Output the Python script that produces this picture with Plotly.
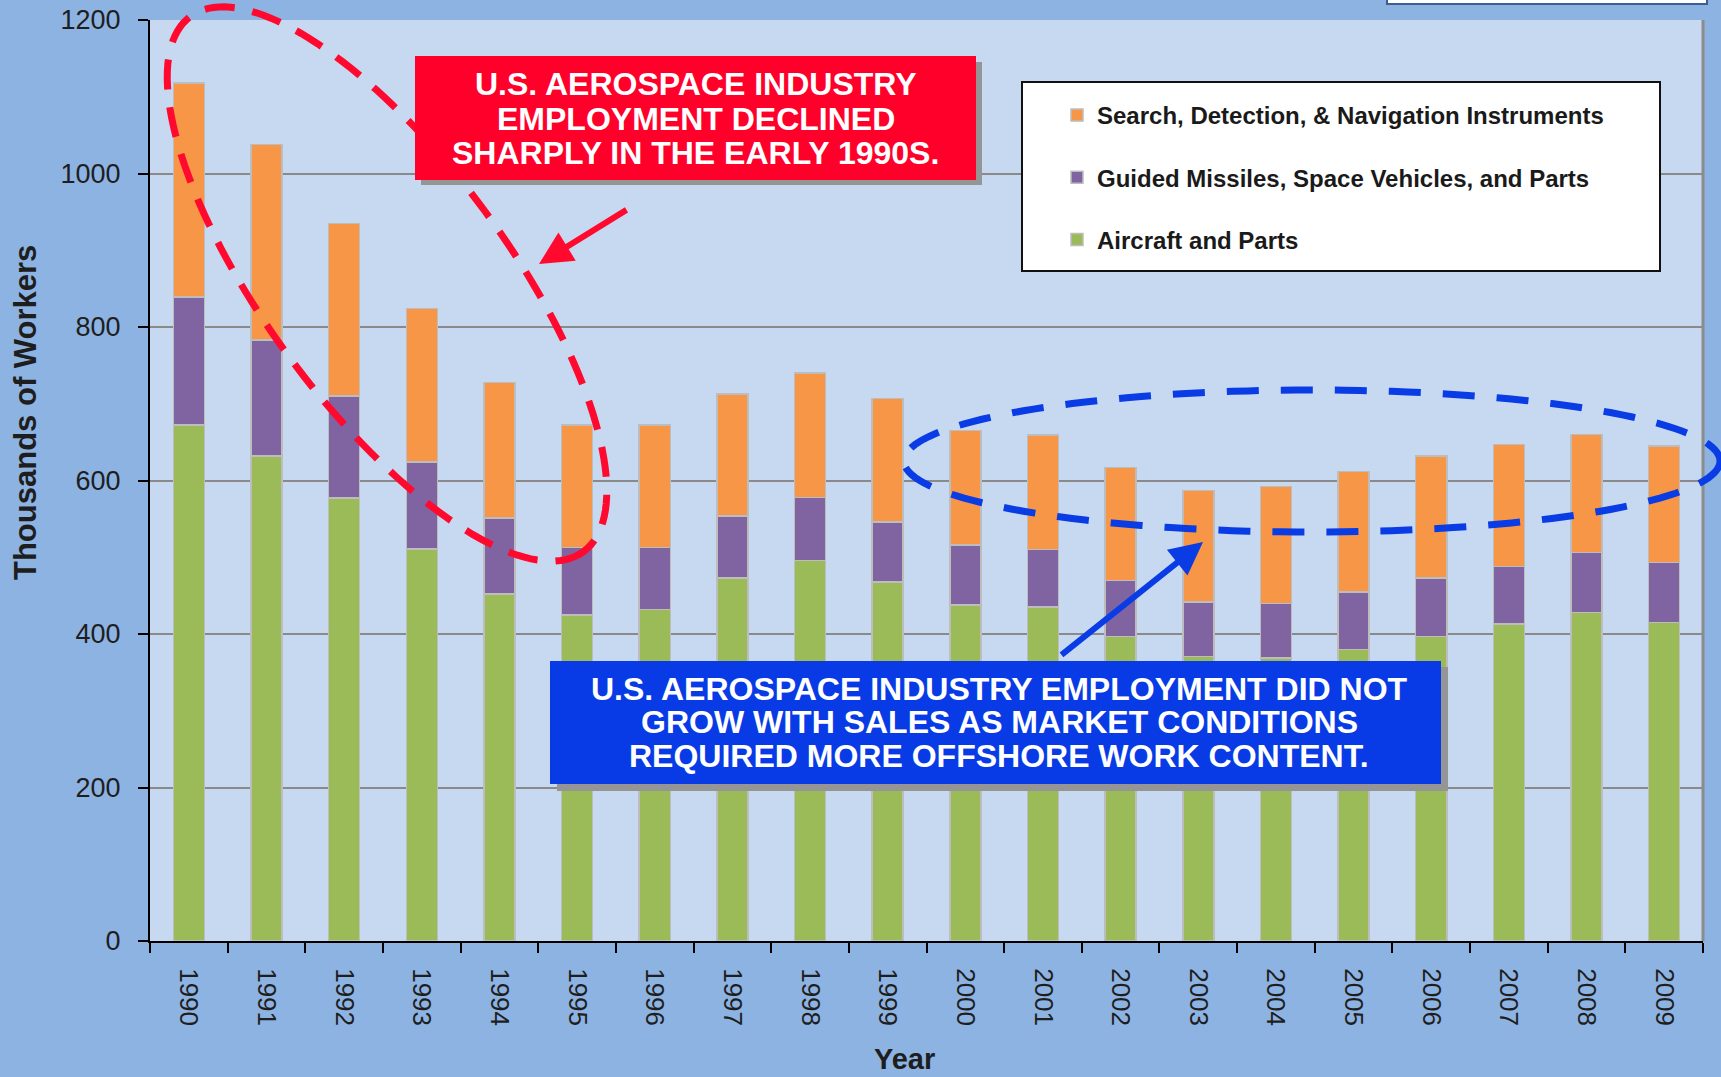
import numpy as np
import plotly.graph_objects as go

# Employment in thousands, by segment
years = [str(y) for y in range(1990, 2010)]
aircraft = [672, 632, 577, 511, 452, 425, 432, 473, 496, 468,
            438, 435, 397, 371, 369, 380, 397, 413, 428, 415]
missiles = [167, 151, 133, 113, 99, 88, 81, 81, 82, 78,
            78, 75, 73, 71, 71, 75, 76, 75, 78, 78]
search = [279, 255, 225, 200, 177, 159, 159, 159, 162, 161,
          149, 149, 147, 145, 152, 157, 159, 159, 154, 152]

series_names = ["Aircraft and Parts",
                "Guided Missiles, Space Vehicles, and Parts",
                "Search, Detection, & Navigation Instruments"]
series_colors = ["#9BBB59", "#8064A2", "#F79646"]
legend_ranks = [3, 2, 1]

W, H = 1721, 1077
PL, PR, PT, PB = 150, 1703, 20, 941
FONT = "Liberation Sans, Arial, sans-serif"


def to_paper(x, y):
    return (x - PL) / (PR - PL), (PB - y) / (PB - PT)


def ellipse_path(cx, cy, a, b, angle_deg, n=160):
    th = np.radians(angle_deg)
    t = np.linspace(0, 2 * np.pi, n, endpoint=False)
    xs = cx + a * np.cos(t) * np.cos(th) - b * np.sin(t) * np.sin(th)
    ys = cy + a * np.cos(t) * np.sin(th) + b * np.sin(t) * np.cos(th)
    pts = [to_paper(x, y) for x, y in zip(xs, ys)]
    return "M" + " L".join(f"{px:.5f},{py:.5f}" for px, py in pts) + " Z"


def rect(x0, y0, x1, y1, fill, line_color=None, line_width=0):
    p0 = to_paper(x0, y1)
    p1 = to_paper(x1, y0)
    return dict(type="rect", xref="paper", yref="paper",
                x0=p0[0], y0=p0[1], x1=p1[0], y1=p1[1],
                fillcolor=fill, layer="above",
                line=dict(color=line_color or fill, width=line_width))


fig = go.Figure()
for name, vals, col, rank in zip(series_names, [aircraft, missiles, search],
                                 series_colors, legend_ranks):
    fig.add_trace(go.Bar(
        x=years, y=vals, name=f"<b>{name}</b>", legendgroup=name, legendrank=rank,
        marker=dict(color=col, line=dict(color="#BDBDBD", width=1.5)),
        width=0.4,
    ))

shapes = []
# plot-area right border
shapes.append(dict(type="line", xref="paper", yref="paper", x0=1, x1=1, y0=0, y1=1,
                   line=dict(color="#8C8C8C", width=3), layer="above"))
# partially visible box at the top right
shapes.append(rect(1387, -20, 1707, 4, "white", "#3B5F95", 2))
# dashed highlight ellipses
shapes.append(dict(type="path", xref="paper", yref="paper",
                   path=ellipse_path(387, 284, 332, 122, 53.7),
                   line=dict(color="#FF0A2E", width=7, dash="30px,18px"), layer="above"))
shapes.append(dict(type="path", xref="paper", yref="paper",
                   path=ellipse_path(1312, 461, 408, 71, 0),
                   line=dict(color="#0A3CE6", width=7, dash="32px,22px"), layer="above"))
# callout boxes with drop shadows
shapes.append(rect(421, 62, 982, 185, "#959595"))
shapes.append(rect(415, 56, 976, 180, "#FF002B"))
shapes.append(rect(557, 667, 1448, 791, "#959595"))
shapes.append(rect(550, 661, 1441, 784, "#083BE5"))
# legend frame
shapes.append(rect(1022, 82, 1660, 271, "white", "#111111", 2))

annotations = []
red_lines = ["U.S. AEROSPACE INDUSTRY", "EMPLOYMENT DECLINED", "SHARPLY IN THE EARLY 1990S."]
for txt, yy in zip(red_lines, [84, 119, 153]):
    px, py = to_paper(695.5, yy)
    annotations.append(dict(text=f"<b>{txt}</b>", x=px, y=py, xref="paper", yref="paper",
                            xanchor="center", yanchor="middle", showarrow=False,
                            font=dict(family=FONT, size=32, color="white")))
blue_lines = ["U.S. AEROSPACE INDUSTRY EMPLOYMENT DID NOT",
              "GROW WITH SALES AS MARKET CONDITIONS",
              "REQUIRED MORE OFFSHORE WORK CONTENT."]
for txt, yy in zip(blue_lines, [689, 722, 756]):
    px, py = to_paper(999, yy)
    annotations.append(dict(text=f"<b>{txt}</b>", x=px, y=py, xref="paper", yref="paper",
                            xanchor="center", yanchor="middle", showarrow=False,
                            font=dict(family=FONT, size=32, color="white")))

# arrows pointing at the highlighted regions
hx, hy = to_paper(539, 264)
annotations.append(dict(text="", x=hx, y=hy, xref="paper", yref="paper",
                        ax=89, ay=-55, showarrow=True, arrowhead=2, arrowsize=1.1,
                        arrowwidth=6, arrowcolor="#FF0A2E", standoff=0))
hx, hy = to_paper(1203, 542)
annotations.append(dict(text="", x=hx, y=hy, xref="paper", yref="paper",
                        ax=-143, ay=114, showarrow=True, arrowhead=2, arrowsize=1.1,
                        arrowwidth=6, arrowcolor="#0A3CE6", standoff=0))

# axis titles
px, py = to_paper(26, 413)
annotations.append(dict(text="<b>Thousands of Workers</b>", x=px, y=py, xref="paper", yref="paper",
                        xanchor="center", yanchor="middle", textangle=-90, showarrow=False,
                        font=dict(family=FONT, size=31, color="#1E1E1E")))
px, py = to_paper(904, 1059)
annotations.append(dict(text="<b>Year</b>", x=px, y=py, xref="paper", yref="paper",
                        xanchor="center", yanchor="middle", showarrow=False,
                        font=dict(family=FONT, size=29, color="#1E1E1E")))

lx, ly = to_paper(1057, 93)
fig.update_layout(
    width=W, height=H,
    margin=dict(l=PL, r=W - PR, t=PT, b=H - PB, autoexpand=False),
    paper_bgcolor="#8DB3E2",
    plot_bgcolor="#C6D9F1",
    barmode="stack",
    font=dict(family=FONT, color="#1E1E1E"),
    showlegend=True,
    legend=dict(x=lx, y=ly, xanchor="left", yanchor="top",
                bgcolor="rgba(0,0,0,0)", borderwidth=0,
                traceorder="grouped", tracegroupgap=28,
                font=dict(family=FONT, size=24, color="#1A1A1A"),
                itemclick=False),
    xaxis=dict(type="category", range=[-0.5, 19.5], tickson="boundaries",
               ticks="outside", ticklen=10, tickwidth=2, tickcolor="black",
               showline=True, linecolor="black", linewidth=2, tickangle=90,
               tickfont=dict(family=FONT, size=26, color="#1E1E1E"),
               showgrid=False, ticklabelstandoff=20, automargin=False),
    yaxis=dict(range=[0, 1200], dtick=200, showgrid=True, gridcolor="#8A8A8A", gridwidth=2,
               showline=True, linecolor="black", linewidth=2, ticks="outside", ticklen=10,
               tickwidth=2, tickcolor="black", zeroline=False, automargin=False,
               tickfont=dict(family=FONT, size=27, color="#1E1E1E"), ticklabelstandoff=12),
    shapes=shapes,
    annotations=annotations,
)

fig.write_html("out.html")
